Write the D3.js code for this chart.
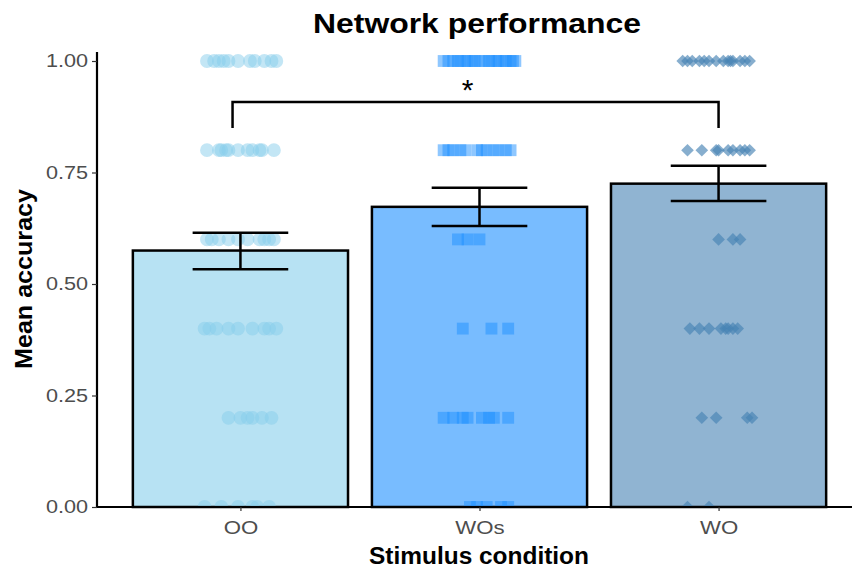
<!DOCTYPE html>
<head>
  <meta charset="utf-8">
  <script src="https://d3js.org/d3.v7.min.js"></script>
  <style>
    body { margin:0; background:#fff; }
    text { font-family: "Liberation Sans", Arial, sans-serif; }
  </style>
</head>
<body>
  <script>
    // summary values
    var conditions = ["OO", "WOs", "WO"];
    var means = [0.575, 0.673, 0.725];
    var errLow = [0.533, 0.630, 0.686];
    var errHigh = [0.615, 0.716, 0.765];
    var yTicks = [0, 0.25, 0.5, 0.75, 1];

    // raw points: accuracy level + jitter (in category units)
    var ooPoints = [
      [1,-0.14],[1,-0.11],[1,-0.09],[1,-0.07],[1,-0.05],[1,-0.01],[1,0.04],[1,0.06],[1,0.10],[1,0.13],[1,0.15],
      [0.8,-0.14],[0.8,-0.09],[0.8,-0.08],[0.8,-0.06],[0.8,-0.05],[0.8,-0.01],[0.8,0.03],[0.8,0.05],[0.8,0.08],[0.8,0.09],[0.8,0.14],
      [0.6,-0.14],[0.6,-0.12],[0.6,-0.09],[0.6,-0.05],[0.6,-0.01],[0.6,0.03],[0.6,0.08],[0.6,0.10],[0.6,0.12],[0.6,0.14],
      [0.4,-0.15],[0.4,-0.13],[0.4,-0.10],[0.4,-0.05],[0.4,-0.01],[0.4,0.05],[0.4,0.10],[0.4,0.12],[0.4,0.15],
      [0.2,-0.05],[0.2,0],[0.2,0.03],[0.2,0.05],[0.2,0.09],[0.2,0.13],
      [0,-0.15],[0,-0.08],[0,-0.01],[0,0.05],[0,0.07],[0,0.12]
    ];
    var wosPoints = [
      [1,-0.15],[1,-0.13],[1,-0.11],[1,-0.09],[1,-0.08],[1,-0.06],[1,-0.05],[1,-0.03],[1,-0.02],[1,0],
      [1,0.02],[1,0.04],[1,0.05],[1,0.07],[1,0.08],[1,0.10],[1,0.11],[1,0.13],[1,0.14],[1,0.15],
      [0.8,-0.15],[0.8,-0.13],[0.8,-0.11],[0.8,-0.08],[0.8,-0.06],[0.8,-0.01],[0.8,0.01],[0.8,0.03],[0.8,0.06],[0.8,0.08],[0.8,0.11],[0.8,0.13],
      [0.6,-0.09],[0.6,-0.05],[0.6,0],
      [0.4,-0.07],[0.4,0.05],[0.4,0.12],
      [0.2,-0.15],[0.2,-0.11],[0.2,-0.07],[0.2,-0.05],[0.2,0.01],[0.2,0.04],[0.2,0.06],[0.2,0.12],
      [0,-0.04],[0,-0.01],[0,0.03],[0,0.09],[0,0.12]
    ];
    var woPoints = [
      [1,-0.15],[1,-0.13],[1,-0.11],[1,-0.08],[1,-0.06],[1,-0.04],[1,-0.01],[1,0.02],[1,0.04],[1,0.05],[1,0.06],[1,0.09],[1,0.11],[1,0.13],
      [0.8,-0.13],[0.8,-0.07],[0.8,-0.01],[0.8,0],[0.8,0.04],[0.8,0.06],[0.8,0.09],[0.8,0.11],[0.8,0.13],
      [0.6,0],[0.6,0.06],[0.6,0.09],
      [0.4,-0.12],[0.4,-0.08],[0.4,-0.04],[0.4,0.01],[0.4,0.03],[0.4,0.04],[0.4,0.06],[0.4,0.08],
      [0.2,-0.07],[0.2,-0.01],[0.2,0.12],[0.2,0.14],
      [0,-0.13],[0,-0.04]
    ];

    var colors = ["#87CEEB", "#1E90FF", "#4682B4"];
    var shapes = [d3.symbolCircle, d3.symbolSquare, d3.symbolSquare];
    var shapeSize = [150, 140, 80];
    var shapeRotate = [0, 0, 45];
    var shapeOpacity = [0.5, 0.5, 0.65];
    var allPoints = [ooPoints, wosPoints, woPoints];

    var width = 854, height = 569;
    var svg = d3.select("body").append("svg")
      .attr("width", width)
      .attr("height", height);

    // positions 1..3, ggplot style expansion of 0.6
    var x = d3.scaleLinear().domain([0.4, 3.6]).range([97, 862]);
    var y = d3.scaleLinear().domain([0, 1]).range([507, 61]);

    svg.append("clipPath").attr("id", "panel")
      .append("rect").attr("x", 97).attr("y", 48).attr("width", 760).attr("height", 459);

    // stretch text horizontally to match the wider rendering of the original
    function stretch(sel, k) {
      sel.each(function() {
        var w = this.getComputedTextLength();
        d3.select(this).attr("textLength", w * k).attr("lengthAdjust", "spacingAndGlyphs");
      });
    }

    var bars = conditions.map(function(c, i) {
      return {name: c, pos: i + 1, mean: means[i], lo: errLow[i], hi: errHigh[i], color: colors[i]};
    });

    // bars
    svg.selectAll("rect.bar").data(bars).enter().append("rect")
      .attr("class", "bar")
      .attr("x", function(d){ return x(d.pos - 0.45); })
      .attr("width", function(d){ return x(d.pos + 0.45) - x(d.pos - 0.45); })
      .attr("y", function(d){ return y(d.mean); })
      .attr("height", function(d){ return y(0) - y(d.mean); })
      .attr("fill", function(d){ return d.color; })
      .attr("fill-opacity", 0.6)
      .attr("stroke", "#000")
      .attr("stroke-width", 2.5);

    // jittered points
    var pointLayer = svg.append("g").attr("clip-path", "url(#panel)");
    allPoints.forEach(function(pts, i) {
      pointLayer.append("g").selectAll("path").data(pts).enter().append("path")
        .attr("d", d3.symbol().type(shapes[i]).size(shapeSize[i]))
        .attr("transform", function(d){
          return "translate(" + x(i + 1 + d[1]) + "," + y(d[0]) + ") rotate(" + shapeRotate[i] + ")";
        })
        .attr("fill", colors[i])
        .attr("fill-opacity", shapeOpacity[i]);
    });

    // error bars
    var eb = svg.append("g").attr("stroke", "#000").attr("stroke-width", 2.5).attr("fill", "none");
    bars.forEach(function(d) {
      eb.append("line").attr("x1", x(d.pos)).attr("x2", x(d.pos)).attr("y1", y(d.lo)).attr("y2", y(d.hi));
      eb.append("line").attr("x1", x(d.pos - 0.2)).attr("x2", x(d.pos + 0.2)).attr("y1", y(d.lo)).attr("y2", y(d.lo));
      eb.append("line").attr("x1", x(d.pos - 0.2)).attr("x2", x(d.pos + 0.2)).attr("y1", y(d.hi)).attr("y2", y(d.hi));
    });

    // significance bracket OO vs WO
    var bracketY = 0.908, bracketEnd = 0.85;
    svg.append("path")
      .attr("d", d3.line()([[x(0.967), y(bracketEnd)], [x(0.967), y(bracketY)], [x(3.0), y(bracketY)], [x(3.0), y(bracketEnd)]]))
      .attr("fill", "none").attr("stroke", "#000").attr("stroke-width", 2.5);
    svg.append("text")
      .attr("x", x(1.95)).attr("y", y(bracketY) - 2)
      .attr("text-anchor", "middle")
      .style("font-size", "30px")
      .text("*");

    // axes
    var yAxis = svg.append("g")
      .attr("transform", "translate(" + 97 + ",0)")
      .call(d3.axisLeft(y).tickValues(yTicks).tickFormat(d3.format(".2f")).tickSize(5).tickPadding(4));
    var xAxis = svg.append("g")
      .attr("transform", "translate(0," + 507 + ")")
      .call(d3.axisBottom(x).tickValues([1, 2, 3]).tickFormat(function(d){ return conditions[d - 1]; }).tickSize(4).tickPadding(10));

    [xAxis, yAxis].forEach(function(a) {
      a.select(".domain").attr("stroke", "#000").attr("stroke-width", 2.2);
      a.selectAll(".tick line").attr("stroke", "#333").attr("stroke-width", 1.2);
      a.selectAll(".tick text").attr("fill", "#4D4D4D").style("font-size", "18.5px")
        .style("font-family", "'Liberation Sans', Arial, sans-serif");
    });
    yAxis.select(".domain").attr("d", "M0,52V507");
    xAxis.select(".domain").attr("d", "M97,0H852");
    stretch(yAxis.selectAll(".tick text"), 1.17);
    stretch(xAxis.selectAll(".tick text"), 1.2);

    // titles
    svg.append("text")
      .attr("x", 477).attr("y", 33)
      .attr("text-anchor", "middle")
      .style("font-size", "28px").style("font-weight", "bold")
      .attr("textLength", 328).attr("lengthAdjust", "spacingAndGlyphs")
      .text("Network performance");

    svg.append("text")
      .attr("x", 479).attr("y", 564)
      .attr("text-anchor", "middle")
      .style("font-size", "23px").style("font-weight", "bold")
      .attr("textLength", 220).attr("lengthAdjust", "spacingAndGlyphs")
      .text("Stimulus condition");

    svg.append("text")
      .attr("transform", "translate(32,279) rotate(-90)")
      .attr("text-anchor", "middle")
      .style("font-size", "23px").style("font-weight", "bold")
      .attr("textLength", 180).attr("lengthAdjust", "spacingAndGlyphs")
      .text("Mean accuracy");
  </script>
</body>
